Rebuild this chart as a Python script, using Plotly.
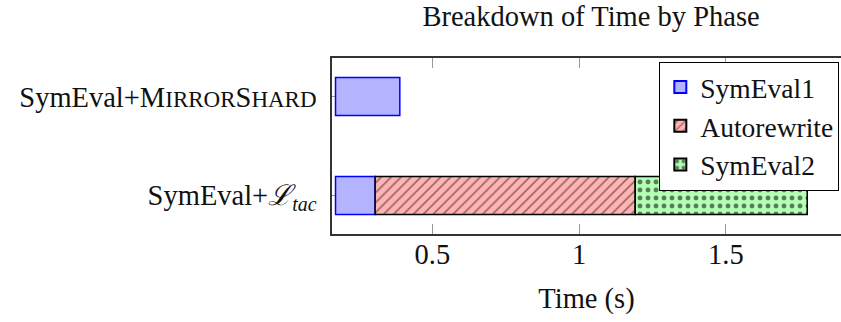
import plotly.graph_objects as go

# ---- data ----
categories = ["SymEval+<i>ℒ</i><sub><i>tac</i></sub>",
              "SymEval+M<span style='font-size:23px'>IRROR</span>S<span style='font-size:23px'>HARD</span>"]
bar_start = 0.17
symeval1 = [0.135, 0.219]
autorewrite = [0.886, None]
symeval2 = [0.586, None]
x_ticks = [0.5, 1, 1.5]
x_tick_labels = ["0.5", "1", "1.5"]

FONT = "Liberation Serif, Times New Roman, serif"
FS = 28.5

base2 = [bar_start + s for s in symeval1]
base3 = [b + (a or 0) for b, a in zip(base2, autorewrite)]

fig = go.Figure()
fig.add_trace(go.Bar(
    y=categories, x=symeval1, base=[bar_start] * len(categories), orientation="h",
    name="SymEval1", width=0.385,
    marker=dict(color="#b3b3ff", line=dict(color="#0000ff", width=1.5)),
))
fig.add_trace(go.Bar(
    y=categories, x=autorewrite, base=base2, orientation="h",
    name="Autorewrite", width=0.385,
    marker=dict(color="#ffb3b3", line=dict(color="#000000", width=1.5),
                pattern=dict(shape="/", fgcolor="#000000", size=7, solidity=0.2)),
))
fig.add_trace(go.Bar(
    y=categories, x=symeval2, base=base3, orientation="h",
    name="SymEval2", width=0.385,
    marker=dict(color="#b3ffb3", line=dict(color="#000000", width=1.5),
                pattern=dict(shape=".", fgcolor="#000000", size=8, solidity=0.3)),
))

fig.update_layout(
    width=841, height=322,
    margin=dict(l=332, r=0, t=58, b=88),
    barmode="overlay",
    plot_bgcolor="white", paper_bgcolor="white",
    font=dict(family=FONT, size=FS, color="#111"),
    title=dict(text="Breakdown of Time by Phase", x=591 / 841, xanchor="center",
               xref="container", y=1 - 16 / 322, yanchor="middle", yref="container",
               font=dict(family=FONT, size=FS, color="#111")),
    showlegend=True,
    legend=dict(x=0.9967, xanchor="right", y=0.979, yanchor="top",
                bgcolor="white", bordercolor="#000", borderwidth=1,
                font=dict(family=FONT, size=27.5, color="#111"), traceorder="normal",
                tracegroupgap=0, itemsizing="constant", itemwidth=30),
    xaxis=dict(range=[0.158, 1.892], tickvals=x_ticks, ticktext=x_tick_labels,
               tickfont=dict(family=FONT, size=FS, color="#111"),
               ticks="inside", ticklen=10, tickcolor="#999", tickwidth=1,
               showline=True, linecolor="#333", linewidth=1.5, mirror="ticks",
               showgrid=False, zeroline=False, layer="below traces",
               ticklabelstandoff=-6,
               title=dict(text="Time (s)", standoff=19,
                          font=dict(family=FONT, size=FS, color="#111"))),
    yaxis=dict(type="category", categoryorder="array", categoryarray=categories,
               range=[-0.39, 1.39],
               tickfont=dict(family=FONT, size=FS, color="#111"),
               ticks="inside", ticklen=10, tickcolor="#999", tickwidth=1,
               showline=True, linecolor="#333", linewidth=1.5,
               showgrid=False, zeroline=False, layer="below traces",
               ticklabelstandoff=8),
)

fig.write_html("out.html")
